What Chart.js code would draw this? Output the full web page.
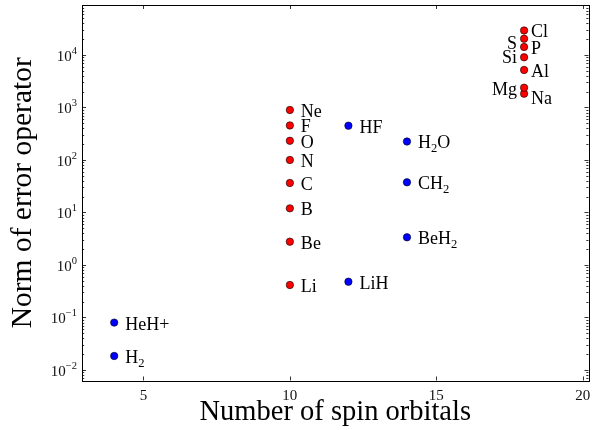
<!DOCTYPE html>
<html>
<head>
<meta charset="utf-8">
<script src="https://cdn.jsdelivr.net/npm/chart.js@4"></script>
<style>
  body { margin: 0; background: #fff; }
  canvas { display: block; }
</style>
</head>
<body>
<canvas id="myChart" width="597" height="430"></canvas>
<script>
// atoms (red) and molecules (blue)
const atomNames = ['Li', 'Be', 'B', 'C', 'N', 'O', 'F', 'Ne', 'Na', 'Mg', 'Al', 'Si', 'P', 'S', 'Cl'];
const atomOrbitals = [10, 10, 10, 10, 10, 10, 10, 10, 18, 18, 18, 18, 18, 18, 18];
const atomNorms = [0.416, 2.78, 12.0, 36.5, 100, 232, 455, 896, 1830, 2380, 5180, 9040, 14200, 20400, 29300];

const moleculeNames = ['H₂', 'HeH+', 'LiH', 'HF', 'BeH₂', 'CH₂', 'H₂O'];
const moleculeOrbitals = [4, 4, 12, 12, 14, 14, 14];
const moleculeNorms = [0.0185, 0.08, 0.48, 450, 3.37, 37.6, 225];

const xTicks = [5, 10, 15, 20];
const yDecades = [-2, -1, 0, 1, 2, 3, 4];

const FONT = '"Liberation Serif", "Times New Roman", serif';
const leftLabels = ['S', 'Si', 'Mg'];
const nudge = { Na: 3, S: 3, Si: -1 };

const points = (xs, ys) => xs.map((x, i) => ({ x: x, y: ys[i] }));

// text with ₂ drawn as a lowered small 2, or "10" with raised exponent
const drawRuns = (ctx, runs, x, y, size, align) => {
  let w = 0;
  for (const r of runs) {
    ctx.font = `${r.small ? size * 0.7 : size}px ${FONT}`;
    r.w = ctx.measureText(r.t).width;
    w += r.w;
  }
  let cx = align === 'right' ? x - w : x;
  for (const r of runs) {
    ctx.font = `${r.small ? size * 0.7 : size}px ${FONT}`;
    ctx.fillText(r.t, cx, y + (r.shift || 0));
    cx += r.w;
  }
};

const labelRuns = (text, size) => {
  const runs = [];
  for (const ch of text) {
    const sub = ch === '₂';
    const c = sub ? '2' : ch;
    const last = runs[runs.length - 1];
    if (last && last.small === sub) last.t += c;
    else runs.push({ t: c, small: sub, shift: sub ? size * 0.2 : 0 });
  }
  return runs;
};

const pointLabels = {
  id: 'pointLabels',
  afterDatasetsDraw(chart) {
    const ctx = chart.ctx;
    const size = 18;
    ctx.save();
    ctx.fillStyle = '#000';
    ctx.textBaseline = 'alphabetic';
    const sets = [[atomNames, atomOrbitals], [moleculeNames, moleculeOrbitals]];
    sets.forEach(([names, xs], di) => {
      chart.getDatasetMeta(di).data.forEach((pt, i) => {
        const name = names[i];
        const left = leftLabels.includes(name);
        const dx = xs[i] === 18 ? 7 : 11;
        const base = pt.y + 7 + (nudge[name] || 0);
        drawRuns(ctx, labelRuns(name, size), left ? pt.x - dx : pt.x + dx, base, size, left ? 'right' : 'left');
      });
    });
    ctx.restore();
  }
};

const frame = {
  id: 'frame',
  afterDraw(chart) {
    const { ctx, chartArea: a } = chart;
    const xs = chart.scales.x, ys = chart.scales.y;
    ctx.save();
    ctx.strokeStyle = '#000';
    ctx.fillStyle = '#111';
    ctx.lineWidth = 1;
    ctx.strokeRect(Math.round(a.left) + 0.5, Math.round(a.top) + 0.5, Math.round(a.right - a.left), Math.round(a.bottom - a.top));

    ctx.lineWidth = 0.8;
    ctx.beginPath();
    for (const v of xTicks) {
      const p = Math.round(xs.getPixelForValue(v)) + 0.5;
      ctx.moveTo(p, a.bottom); ctx.lineTo(p, a.bottom - 4);
      ctx.moveTo(p, a.top); ctx.lineTo(p, a.top + 4);
    }
    for (let d = -3; d <= 5; d++) {
      for (let k = 1; k <= 9; k++) {
        const v = k * Math.pow(10, d);
        if (v < ys.min || v > ys.max) continue;
        const p = Math.round(ys.getPixelForValue(v)) + 0.5;
        const len = k === 1 ? 4 : 2.2;
        ctx.moveTo(a.left, p); ctx.lineTo(a.left + len, p);
        ctx.moveTo(a.right, p); ctx.lineTo(a.right - len, p);
      }
    }
    ctx.stroke();

    // tick labels
    ctx.textBaseline = 'alphabetic';
    ctx.font = `15px ${FONT}`;
    ctx.textAlign = 'center';
    for (const v of xTicks) ctx.fillText(String(v), xs.getPixelForValue(v), a.bottom + 19.5);
    ctx.textAlign = 'left';
    for (const d of yDecades) {
      const p = ys.getPixelForValue(Math.pow(10, d));
      const exp = d < 0 ? '−' + Math.abs(d) : String(d);
      drawRuns(ctx, [{ t: '10' }, { t: exp, small: true, shift: -7 }], a.left - 5, p + 6, 15, 'right');
    }
    ctx.restore();
  }
};

new Chart(document.getElementById('myChart'), {
  type: 'scatter',
  data: {
    datasets: [
      {
        label: 'Atoms',
        data: points(atomOrbitals, atomNorms),
        backgroundColor: '#ff0000',
        borderColor: '#000',
        borderWidth: 0.6,
        pointRadius: 3.7
      },
      {
        label: 'Molecules',
        data: points(moleculeOrbitals, moleculeNorms),
        backgroundColor: '#0000ff',
        borderColor: '#000',
        borderWidth: 0.6,
        pointRadius: 3.7
      }
    ]
  },
  options: {
    responsive: false,
    animation: false,
    layout: { padding: { top: 5, right: 8.5, left: 0, bottom: 0 } },
    plugins: { legend: { display: false }, tooltip: { enabled: false } },
    scales: {
      x: {
        type: 'linear',
        min: 2.9,
        max: 20.2,
        grid: { display: false },
        border: { display: false },
        ticks: { display: false },
        title: {
          display: true,
          text: 'Number of spin orbitals',
          color: '#000',
          font: { family: FONT, size: 28.5 },
          padding: { top: 0, bottom: 0.5 }
        },
        afterFit: s => { s.height = 49.5; }
      },
      y: {
        type: 'logarithmic',
        min: Math.pow(10, -2.2),
        max: Math.pow(10, 4.952),
        grid: { display: false },
        border: { display: false },
        ticks: { display: false },
        title: {
          display: true,
          text: 'Norm of error operator',
          color: '#000',
          font: { family: FONT, size: 29.5 },
          padding: { top: 5.3, bottom: 0 }
        },
        afterFit: s => { s.width = 82; }
      }
    }
  },
  plugins: [pointLabels, frame]
});
</script>
</body>
</html>
